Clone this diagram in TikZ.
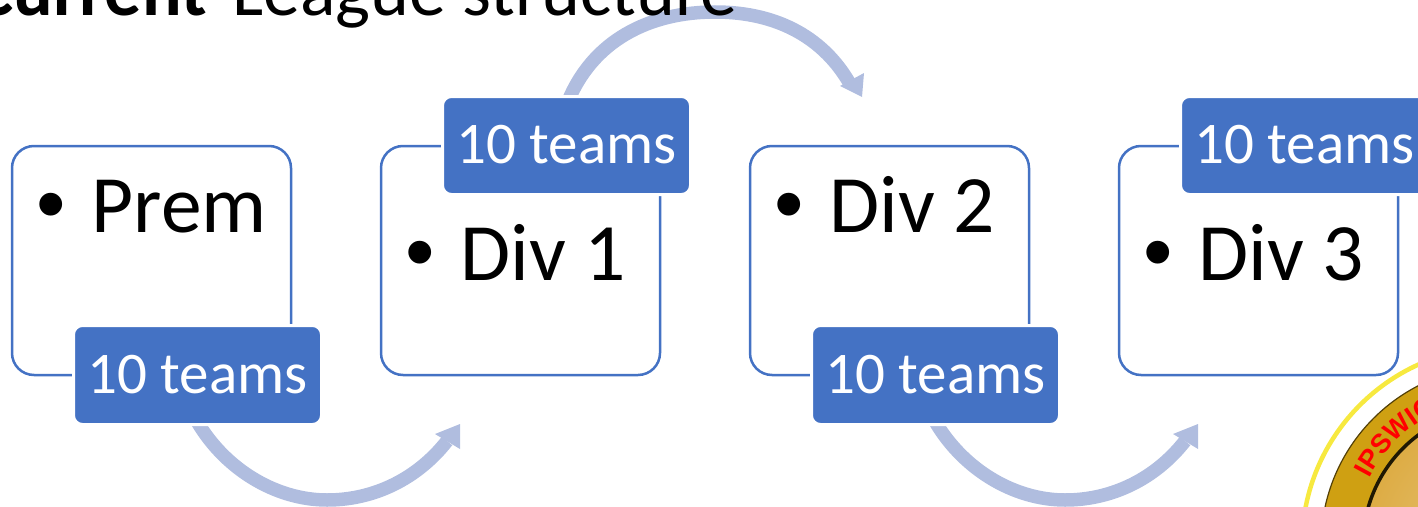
\documentclass[tikz,border=0pt]{standalone}
\usepackage{fontspec}
\setmainfont{Carlito}
\newfontfamily\bulletfont{Liberation Sans}
\newfontfamily\logofont{Liberation Sans}
\usetikzlibrary{decorations.text}
\definecolor{accent}{HTML}{4472C4}
\definecolor{arrowband}{HTML}{B0BDDF}
\definecolor{goldrim}{HTML}{CFA012}
\definecolor{goldface}{HTML}{DDAC44}
\definecolor{halo}{HTML}{F7E93F}
\tikzset{
  x=1pt,y=-1pt,
  outerbox/.style={draw=accent,line width=2.5pt,rounded corners=22pt,fill=white},
  badge/.style={fill=accent,draw=white,line width=3pt,rounded corners=9pt},
  badgetext/.style={text=white,font=\fontsize{59}{62}\selectfont,inner sep=0pt},
  bodytext/.style={text=black,font=\fontsize{81.5}{90}\selectfont,inner sep=0pt,anchor=base west},
  dotmark/.style={text=black,font=\bulletfont\fontsize{84}{90}\selectfont,inner sep=0pt,anchor=base west},
  band/.style={draw=arrowband,line width=13.5pt},
  bandhead/.style={fill=arrowband,draw=none},
}
\begin{document}
\begin{tikzpicture}
\useasboundingbox (0,0) rectangle (1418,506);
\clip (0,0) rectangle (1418,506);
% logo
\fill[goldrim] (1500,545) circle (179);
\draw[black!60!goldrim,line width=1.2pt] (1500,545) circle (179);
\draw[halo,line width=4.5pt] (1500,545) circle (198);
\shade[inner color=goldface!70!white,outer color=goldface] (1500,545) circle (137);
\draw[black!85!goldrim,line width=3.5pt] (1500,545) circle (137);
\path[decorate,decoration={text along path,text align=left,
  text={|\logofont\bfseries\fontsize{27}{27}\selectfont\color{red}|IPSWICH}}]
  (1500,545) ++(-153:147) arc[start angle=-153,end angle=-60,radius=147];
% arrows
\coordinate (a1s) at (194,416);
\coordinate (a1b) at (327,500);
\coordinate (a1e) at (447,441);
\draw[band] (a1s) .. controls (222,468) and (275,500) .. (a1b) .. controls (375,500) and (418,478) .. (a1e);
\fill[bandhead] (460,424) -- (435,434) -- (460,449) -- cycle;
\coordinate (a2s) at (567,104);
\coordinate (a2b) at (715,12);
\coordinate (a2e) at (850,84);
\draw[band] (a2s) .. controls (592,40) and (650,12) .. (a2b) .. controls (780,12) and (825,40) .. (a2e);
\fill[bandhead] (864,73) -- (840,86) -- (862,97) -- cycle;
\coordinate (a3s) at (932,416);
\coordinate (a3b) at (1065,500);
\coordinate (a3e) at (1185,441);
\draw[band] (a3s) .. controls (960,468) and (1013,500) .. (a3b) .. controls (1113,500) and (1156,478) .. (a3e);
\fill[bandhead] (1198,424) -- (1173,434) -- (1198,449) -- cycle;
% title
\node[inner sep=0pt,anchor=base east,font=\fontsize{74}{76}\selectfont\bfseries] (ttlb) at (207,15) {Current};
\node[inner sep=0pt,anchor=base west,font=\fontsize{74}{76}\selectfont] (ttl) at (232,15) {League structure};
% boxes
\draw[outerbox] (12,146) rectangle (291,375);
\draw[outerbox] (381,146) rectangle (660,375);
\draw[outerbox] (750,146) rectangle (1029,375);
\draw[outerbox] (1119,146) rectangle (1398,375);
% body text
\node[dotmark] (d1) at (36,232) {•};
\node[bodytext] (t1) at (91.5,232) {Prem};
\node[dotmark] (d2) at (405,280) {•};
\node[bodytext] (t2) at (460.5,280) {Div 1};
\node[dotmark] (d3) at (774,232) {•};
\node[bodytext] (t3) at (829.5,232) {Div 2};
\node[dotmark] (d4) at (1143,280) {•};
\node[bodytext] (t4) at (1198.5,280) {Div 3};
% badges
\draw[badge] (73.5,325.5) rectangle (321.5,424.5);
\node[badgetext] (b1) at (197.5,375) {10 teams};
\draw[badge] (442.5,96.5) rectangle (690.5,194.5);
\node[badgetext] (b2) at (566.5,145) {10 teams};
\draw[badge] (811.5,325.5) rectangle (1059.5,424.5);
\node[badgetext] (b3) at (935.5,375) {10 teams};
\draw[badge] (1180.5,96.5) rectangle (1428.5,194.5);
\node[badgetext] (b4) at (1304.5,145) {10 teams};
\end{tikzpicture}
\end{document}
